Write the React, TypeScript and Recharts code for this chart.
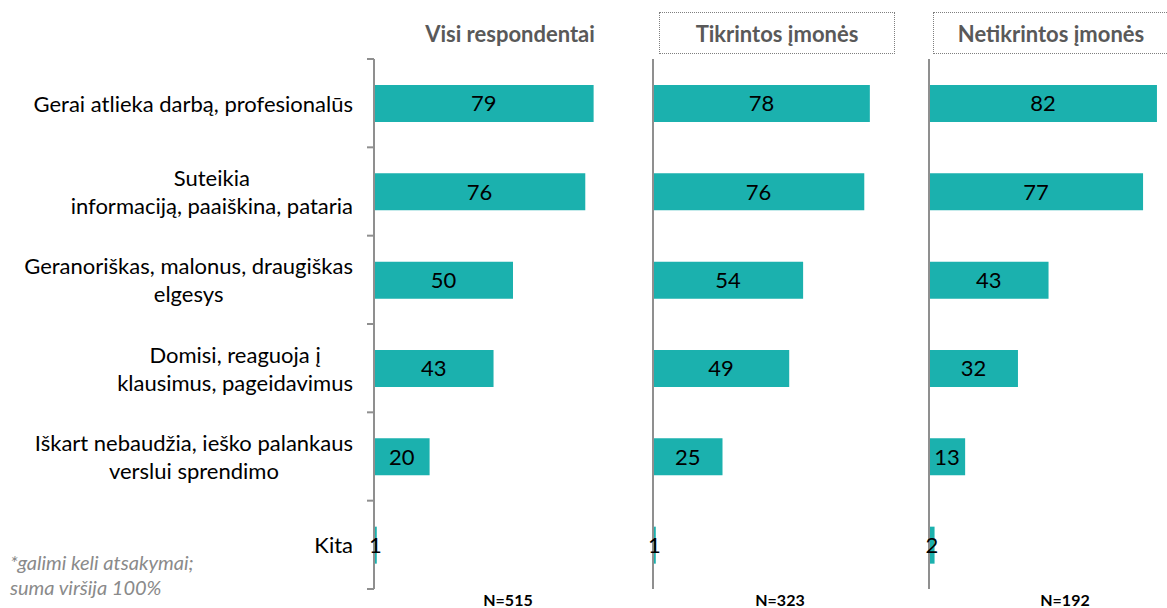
import * as React from "react"
import { BarChart, Bar, XAxis, YAxis, LabelList } from "recharts"

const categories = [
  "Gerai atlieka darbą, profesionalūs",
  "Suteikia\ninformaciją, paaiškina, pataria",
  "Geranoriškas, malonus, draugiškas\nelgesys",
  "Domisi, reaguoja į\nklausimus, pageidavimus",
  "Iškart nebaudžia, ieško palankaus\nverslui sprendimo",
  "Kita",
]
const allValues = [79, 76, 50, 43, 20, 1]
const checkedValues = [78, 76, 54, 49, 25, 1]
const uncheckedValues = [82, 77, 43, 32, 13, 2]

const panelTitles = ["Visi respondentai", "Tikrintos įmonės", "Netikrintos įmonės"]
const sampleSizes = ["N=515", "N=323", "N=192"]
const footnote = ["*galimi keli atsakymai;", "suma viršija 100%"]

const FONT = "Lato, 'Open Sans', sans-serif"
const TEAL = "#1BB1AE"
const AXIS = "#8f8f8f"

let ctx: CanvasRenderingContext2D | null = null
function textWidth(s: string, font: string) {
  if (!ctx) ctx = document.createElement("canvas").getContext("2d")
  if (!ctx) return s.length * 10
  ctx.font = font
  return ctx.measureText(s).width
}

function CategoryTick(props: any) {
  const { x, y, payload, index } = props
  const half = payload.offset || 44
  const lines = String(payload.value).split("\n")
  const block = Math.max(...lines.map((l) => textWidth(l, `22px Lato`)))
  const cx = x - 14 - block / 2
  const lh = 28
  const top = y - ((lines.length - 1) * lh) / 2
  return (
    <g>
      <line x1={x} x2={x + 7} y1={y - half} y2={y - half} stroke={AXIS} strokeWidth={2} />
      {index === categories.length - 1 && (
        <line x1={x} x2={x + 7} y1={y + half} y2={y + half} stroke={AXIS} strokeWidth={2} />
      )}
      {lines.map((l, i) => (
        <text
          key={i}
          x={cx}
          y={top + i * lh}
          textAnchor="middle"
          dominantBaseline="central"
          fontFamily={FONT}
          fontSize={22}
          fill="#000"
        >
          {l}
        </text>
      ))}
    </g>
  )
}

function Panel({ values, left, axisWidth, withLabels }: { values: number[]; left: number; axisWidth: number; withLabels: boolean }) {
  const data = categories.map((c, i) => ({ name: c, value: values[i] }))
  return (
    <div style={{ position: "absolute", left, top: 0 }}>
      <BarChart
        width={axisWidth + 278}
        height={608}
        data={data}
        layout="vertical"
        margin={{ top: 59, right: 0, bottom: 19, left: 0 }}
      >
        <XAxis type="number" domain={[0, 100]} hide />
        <YAxis
          type="category"
          dataKey="name"
          width={axisWidth}
          axisLine={{ stroke: AXIS, strokeWidth: 2 }}
          tickLine={false}
          tickSize={7}
          tickMargin={0}
          tick={withLabels ? <CategoryTick /> : false}
          interval={0}
        />
        <Bar dataKey="value" fill={TEAL} barSize={37} isAnimationActive={false}>
          <LabelList dataKey="value" position="center" fill="#000" fontSize={22} fontFamily={FONT} />
        </Bar>
      </BarChart>
    </div>
  )
}

const titleStyle: React.CSSProperties = {
  position: "absolute",
  top: 12,
  height: 42,
  display: "flex",
  alignItems: "center",
  justifyContent: "center",
  fontFamily: FONT,
  fontWeight: 700,
  fontSize: 22,
  color: "#595959",
  boxSizing: "border-box",
  whiteSpace: "nowrap",
}

const nStyle: React.CSSProperties = {
  position: "absolute",
  top: 590,
  width: 120,
  textAlign: "center",
  fontFamily: FONT,
  fontWeight: 700,
  fontSize: 16,
  color: "#000",
}

export default function App() {
  return (
    <div style={{ position: "absolute", left: 0, top: 0, width: 1167, height: 608, overflow: "hidden", background: "#fff" }}>
      <Panel values={allValues} left={0} axisWidth={374} withLabels={true} />
      <Panel values={checkedValues} left={633} axisWidth={20} withLabels={false} />
      <Panel values={uncheckedValues} left={909} axisWidth={20} withLabels={false} />

      <div style={{ ...titleStyle, left: 400, width: 220 }}>{panelTitles[0]}</div>
      <div style={{ ...titleStyle, left: 659, width: 236, border: "1px dotted #7f7f7f" }}>{panelTitles[1]}</div>
      <div style={{ ...titleStyle, left: 933, width: 236, border: "1px dotted #7f7f7f" }}>{panelTitles[2]}</div>

      <div style={{ ...nStyle, left: 448 }}>{sampleSizes[0]}</div>
      <div style={{ ...nStyle, left: 720 }}>{sampleSizes[1]}</div>
      <div style={{ ...nStyle, left: 1005 }}>{sampleSizes[2]}</div>

      <div
        style={{
          position: "absolute",
          left: 10,
          top: 550,
          fontFamily: FONT,
          fontStyle: "italic",
          fontSize: 20,
          lineHeight: "25px",
          color: "#8a8a8a",
        }}
      >
        {footnote.map((f, i) => (
          <div key={i}>{f}</div>
        ))}
      </div>
    </div>
  )
}
